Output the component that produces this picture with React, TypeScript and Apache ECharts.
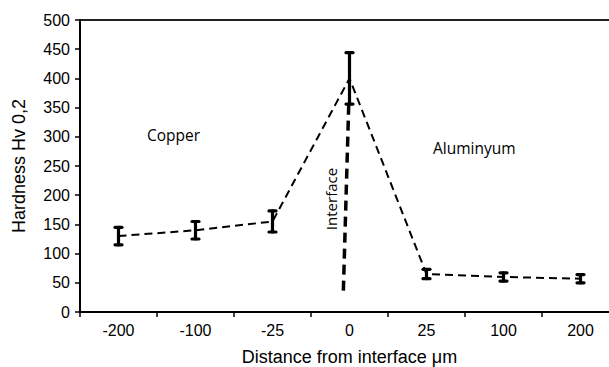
import React, { useEffect, useRef } from "react";
import * as echarts from "echarts";

const categories = ["-200", "-100", "-25", "0", "25", "100", "200"];
const hardness = [130, 140, 155, 400, 65, 60, 57];
const errors = [15, 15, 18, 44, 8, 7, 7];
const interfaceLine = [
  [3.49, 355],
  [3.42, 35],
];
const yTicks = { min: 0, max: 500, interval: 50 };

export default function App() {
  const ref = useRef<HTMLDivElement>(null);
  useEffect(() => {
    if (!ref.current) return;
    const chart = echarts.init(ref.current, null, { renderer: "svg" });
    const errData = hardness.map((v, i) => [i, v - errors[i], v + errors[i]]);
    chart.setOption({
      animation: false,
      textStyle: { fontFamily: "Liberation Sans" },
      grid: {
        left: 80,
        top: 20,
        width: 539,
        height: 292,
        show: true,
        borderColor: "#222",
        borderWidth: 2,
        containLabel: false,
        outerBoundsMode: "none",
      },
      xAxis: [
        {
          type: "category",
          data: categories,
          boundaryGap: true,
          axisLine: { lineStyle: { color: "#000", width: 2 } },
          axisTick: { show: true, length: 5, inside: false, lineStyle: { color: "#000", width: 1.5 } },
          axisLabel: { color: "#000", fontSize: 16, margin: 10, fontFamily: "Liberation Sans" },
          name: "Distance from interface μm",
          nameLocation: "middle",
          nameGap: 36,
          nameTextStyle: { color: "#000", fontSize: 18, fontFamily: "Liberation Sans" },
        },
        {
          type: "value",
          min: 0,
          max: 7,
          show: false,
        },
      ],
      yAxis: {
        type: "value",
        min: yTicks.min,
        max: yTicks.max,
        interval: yTicks.interval,
        splitLine: { show: false },
        axisLine: { show: true, lineStyle: { color: "#000", width: 2 } },
        axisTick: { show: true, length: 5, lineStyle: { color: "#000", width: 1.5 } },
        axisLabel: { color: "#000", fontSize: 16, margin: 10, fontFamily: "Liberation Sans" },
        name: "Hardness Hv 0,2",
        nameLocation: "middle",
        nameGap: 52,
        nameTextStyle: { color: "#000", fontSize: 18, fontFamily: "Liberation Sans" },
      },
      series: [
        {
          type: "line",
          data: hardness,
          symbol: "none",
          lineStyle: { color: "#000", width: 2, type: [8, 5] },
          z: 2,
        },
        {
          type: "custom",
          data: errData,
          z: 3,
          renderItem: (params: any, api: any) => {
            const x = api.coord([api.value(0), 0])[0];
            const lo = api.coord([api.value(0), api.value(1)])[1];
            const hi = api.coord([api.value(0), api.value(2)])[1];
            const style = { stroke: "#000", lineWidth: 3.2, lineCap: "round" };
            return {
              type: "group",
              children: [
                { type: "line", shape: { x1: x, y1: lo, x2: x, y2: hi }, style },
                { type: "line", shape: { x1: x - 3.5, y1: lo, x2: x + 3.5, y2: lo }, style },
                { type: "line", shape: { x1: x - 3.5, y1: hi, x2: x + 3.5, y2: hi }, style },
              ],
            };
          },
        },
        {
          type: "line",
          xAxisIndex: 1,
          data: interfaceLine,
          symbol: "none",
          lineStyle: { color: "#000", width: 3.5, type: [10, 6] },
          z: 2,
        },
      ],
      graphic: [
        {
          type: "text",
          left: 147,
          top: 127,
          style: { text: "Copper", fill: "#000", font: "15.5px 'Open Sans'" },
        },
        {
          type: "text",
          left: 433,
          top: 140,
          style: { text: "Aluminyum", fill: "#000", font: "15.5px 'Open Sans'" },
        },
        {
          type: "text",
          x: 331,
          y: 199,
          rotation: Math.PI / 2,
          style: {
            text: "Interface",
            fill: "#000",
            font: "15px 'Open Sans'",
            align: "center",
            verticalAlign: "middle",
          },
        },
      ],
    });
    return () => chart.dispose();
  }, []);
  return (
    <div
      style={{
        position: "fixed",
        left: 0,
        top: 0,
        width: 609,
        height: 367,
        overflow: "hidden",
        background: "#fff",
      }}
    >
      <div ref={ref} style={{ width: 640, height: 367 }} />
    </div>
  );
}
